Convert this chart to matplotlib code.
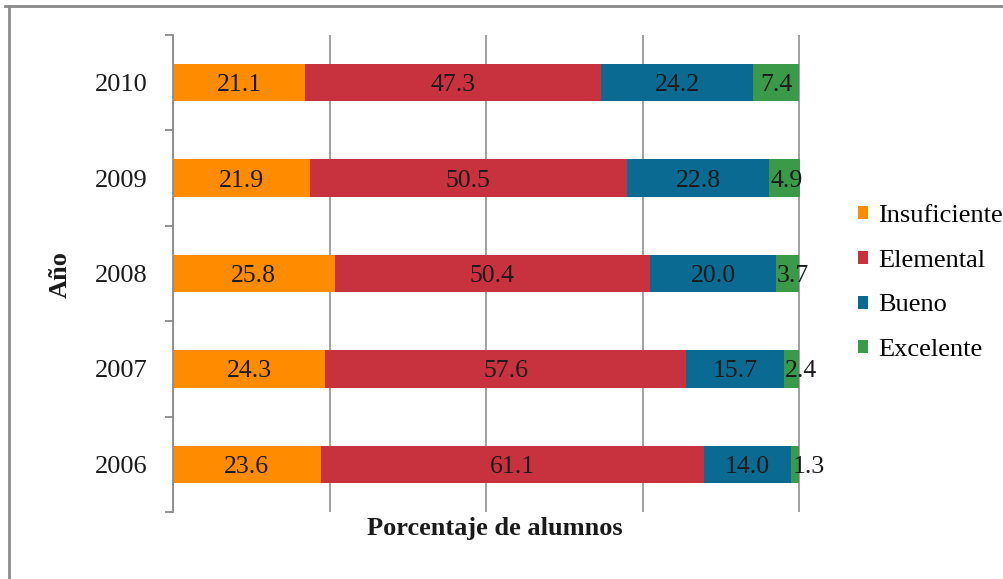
import numpy as np
import matplotlib.pyplot as plt
from matplotlib.lines import Line2D

# Datos: porcentaje de alumnos por nivel de logro
years = ['2006', '2007', '2008', '2009', '2010']
insuficiente = [23.6, 24.3, 25.8, 21.9, 21.1]
elemental = [61.1, 57.6, 50.4, 50.5, 47.3]
bueno = [14.0, 15.7, 20.0, 22.8, 24.2]
excelente = [1.3, 2.4, 3.7, 4.9, 7.4]
levels = ['Insuficiente', 'Elemental', 'Bueno', 'Excelente']
colors = ['#ff8c00', '#c8323f', '#0b6a92', '#3a9a4a']

plt.rcParams['font.family'] = ['Liberation Serif', 'DejaVu Serif']

fig = plt.figure(figsize=(10.04, 5.79), dpi=100)
ax = fig.add_axes([173 / 1004, 1 - 512 / 579, 628 / 1004, 477 / 579])

y = np.arange(len(years))
left = np.zeros(len(years))
for name, vals, col in zip(levels, [insuficiente, elemental, bueno, excelente], colors):
    ax.barh(y, vals, left=left, height=0.39, color=col, label=name, zorder=2)
    for yi, l, v in zip(y, left, vals):
        if name == 'Excelente' and v < 5:
            ax.text(l + 0.15, yi, f'{v:.1f}', ha='left', va='center_baseline',
                    fontsize=18.5, color='#1a1a1a', zorder=3)
        else:
            ax.text(l + v / 2, yi, f'{v:.1f}', ha='center', va='center_baseline',
                    fontsize=18.5, color='#1a1a1a', zorder=3)
    left += np.array(vals)

ax.set_xlim(0, 100.25)
ax.set_ylim(-0.5, len(years) - 0.5)
ax.set_xticks([0, 25, 50, 75, 100])
ax.set_xticklabels([])
ax.tick_params(axis='x', length=0)
ax.grid(axis='x', color='#9a9a9a', linewidth=1.3, zorder=0)
ax.set_axisbelow(True)

# ticks entre categorias, etiquetas en el centro
ax.set_yticks(np.arange(-0.5, len(years), 1.0))
ax.set_yticklabels([])
ax.tick_params(axis='y', which='major', length=6, width=1.3, color='#8a8a8a', direction='out')
ax.set_yticks(y, minor=True)
ax.set_yticklabels(years, minor=True, fontsize=19, color='#1a1a1a', va='center_baseline')
ax.tick_params(axis='y', which='minor', length=0, pad=18)

for s in ['top', 'right', 'bottom']:
    ax.spines[s].set_visible(False)
ax.spines['left'].set_color('#8a8a8a')
ax.spines['left'].set_linewidth(1.3)

fig.text(495 / 1004, 1 - 528 / 579, 'Porcentaje de alumnos', ha='center', va='center',
         fontsize=19, fontweight='bold', color='#1a1a1a')
fig.text(60 / 1004, 1 - 275 / 579, 'Año', ha='center', va='center', rotation=90,
         fontsize=19, fontweight='bold', color='#1a1a1a')

fig.legend(loc='center left', bbox_to_anchor=(858 / 1004, 1 - 283 / 579), frameon=False,
           fontsize=19, handlelength=0.38, handleheight=0.38, handletextpad=0.38,
           labelspacing=0.87, borderpad=0, borderaxespad=0)

# marco exterior
fig.add_artist(Line2D([5 / 1004, 1], [1 - 6 / 579, 1 - 6 / 579], transform=fig.transFigure,
                      color='#8a8a8a', linewidth=2))
fig.add_artist(Line2D([9 / 1004, 9 / 1004], [0, 1 - 6 / 579], transform=fig.transFigure,
                      color='#8a8a8a', linewidth=2))

fig.savefig('out.png', dpi=100)
